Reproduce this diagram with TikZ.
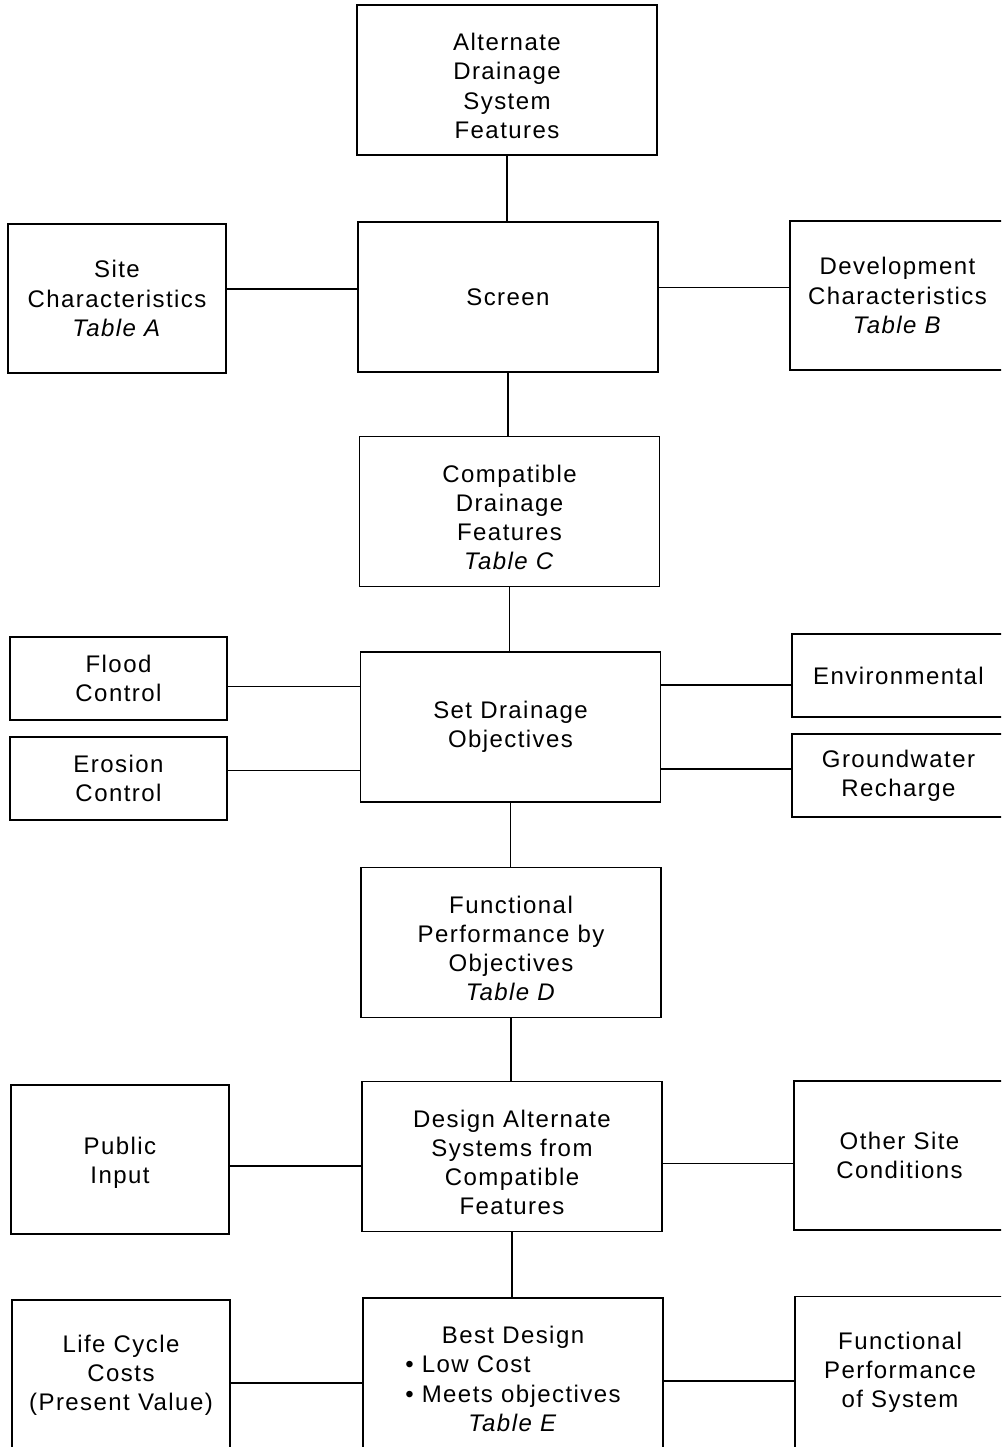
\documentclass[tikz,border=0pt]{standalone}
\usepackage{fontspec}
\setmainfont{Liberation Sans}[LetterSpace=6]
\newlength{\bulletlen}
\newcommand{\lowtop}{\rule{0pt}{22pt}}
\tikzset{
  box/.style={draw, line width=1.4pt, align=center, inner sep=0pt,
    font=\fontsize{18pt}{21.9pt}\selectfont},
  cbox/.style={box, minimum width=225pt, minimum height=112.5pt},
  lbox/.style={box, minimum width=163.5pt, minimum height=111.75pt},
  rbox/.style={box, minimum width=161.25pt, minimum height=111.75pt},
  lsmall/.style={box, minimum width=162.75pt, minimum height=62.25pt},
  rsmall/.style={box, minimum width=159.75pt, minimum height=62.25pt},
  link/.style={line width=1.3pt}
}
\begin{document}
\begin{tikzpicture}[x=0.75pt,y=-0.75pt]
\useasboundingbox (0,0) rectangle (1001,1447);
\clip (0,0) rectangle (1001,1447);
% centre column
\node[cbox] (alt) at (507,80) {\lowtop Alternate\\Drainage\\System\\Features};
\node[cbox] (screen) at (508,297) {Screen};
\node[cbox] (compat) at (509.5,511.5) {\lowtop Compatible\\Drainage\\Features\\\textit{Table C}};
\node[cbox] (setobj) at (510.5,727) {Set Drainage\\Objectives};
\node[cbox] (funcobj) at (511,942.5) {\lowtop Functional\\Performance by\\Objectives\\\textit{Table D}};
\node[cbox] (design) at (512,1156.5) {\lowtop Design Alternate\\Systems from\\Compatible\\Features};
\node[cbox] (best) at (513,1373) {\lowtop Best Design\\\settowidth{\bulletlen}{\textbullet\ Meets objectives}\makebox[\bulletlen][l]{\textbullet\ Low Cost}\\\textbullet\ Meets objectives\\\textit{Table E}};
% left column
\node[lbox] (site) at (117,298.5) {Site\\Characteristics\\\textit{Table A}};
\node[lsmall] (flood) at (118.5,678.5) {Flood\\Control};
\node[lsmall] (erosion) at (118.5,778.5) {Erosion\\Control};
\node[lbox] (public) at (120,1159.5) {\rule{0pt}{18pt}Public\\Input};
\node[lbox, minimum height=112.5pt] (life) at (121,1375) {Life Cycle\\Costs\\(Present Value)};
% right column
\node[rbox] (dev) at (897.5,295.5) {Development\\Characteristics\\\textit{Table B}};
\node[rsmall] (env) at (898.5,675.5) {Environmental};
\node[rsmall] (gw) at (898.5,775.5) {Groundwater\\Recharge};
\node[rbox, minimum width=158.25pt] (other) at (899.5,1155.5) {Other Site\\Conditions};
\node[rbox, minimum width=157.5pt, minimum height=113.25pt] (fps) at (900,1372) {Functional\\Performance\\of System};
% vertical connectors
\draw[link] (alt.south) -- (alt.south |- screen.north);
\draw[link] (screen.south) -- (screen.south |- compat.north);
\draw[link] (compat.south) -- (compat.south |- setobj.north);
\draw[link] (setobj.south) -- (setobj.south |- funcobj.north);
\draw[link] (funcobj.south) -- (funcobj.south |- design.north);
\draw[link] (design.south) -- (design.south |- best.north);
% horizontal connectors
\draw[link] ([yshift=7pt]site.east) -- ([yshift=7pt]site.east -| screen.west);
\draw[link] ([yshift=6pt]dev.west) -- ([yshift=6pt]dev.west -| screen.east);
\draw[link] ([yshift=-6pt]flood.east) -- ([yshift=-6pt]flood.east -| setobj.west);
\draw[link] ([yshift=6pt]erosion.east) -- ([yshift=6pt]erosion.east -| setobj.west);
\draw[link] ([yshift=-7pt]env.west) -- ([yshift=-7pt]env.west -| setobj.east);
\draw[link] ([yshift=5pt]gw.west) -- ([yshift=5pt]gw.west -| setobj.east);
\draw[link] ([yshift=-5pt]public.east) -- ([yshift=-5pt]public.east -| design.west);
\draw[link] ([yshift=-6pt]other.west) -- ([yshift=-6pt]other.west -| design.east);
\draw[link] ([yshift=-6pt]life.east) -- ([yshift=-6pt]life.east -| best.west);
\draw[link] ([yshift=-7pt]fps.west) -- ([yshift=-7pt]fps.west -| best.east);
\end{tikzpicture}
\end{document}
